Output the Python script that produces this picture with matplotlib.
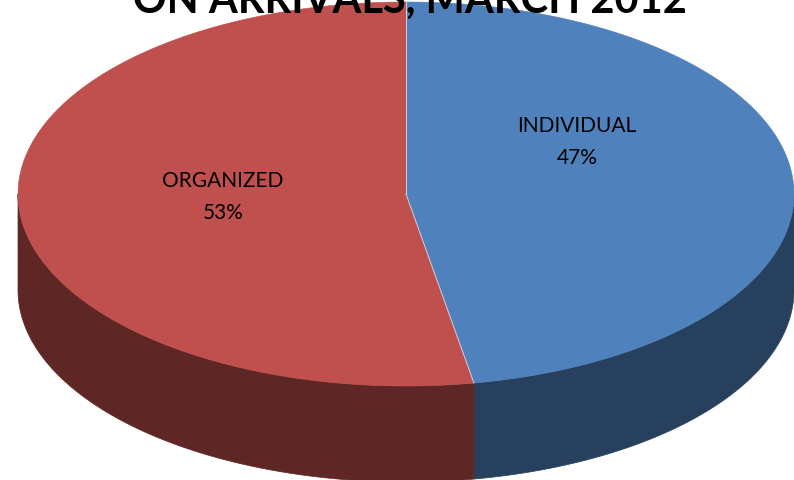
import numpy as np
import matplotlib.pyplot as plt
from matplotlib.patches import Polygon

# data
labels = ['INDIVIDUAL', 'ORGANIZED']
values = [47.2, 52.8]
top_colors = ['#4F81BD', '#C0504D']
side_colors = ['#27405E', '#5E2726']
title = 'ON ARRIVALS, MARCH 2012'

plt.rcParams['font.family'] = ['Lato', 'DejaVu Sans']

fig = plt.figure(figsize=(7.94, 4.81), dpi=100)
ax = fig.add_axes([0, 0, 1, 1])
ax.set_xlim(0, 794)
ax.set_ylim(481, 0)
ax.axis('off')

# pie geometry (pixels)
cx, cy = 406, 195
a, b = 388, 192
depth = 96
start = 90.0


def pt(theta, dy=0):
    t = np.radians(theta)
    return cx + a * np.cos(t), cy - b * np.sin(t) + dy


total = float(sum(values))
angles = []
ang = start
for v in values:
    span = 360.0 * v / total
    angles.append((ang - span, ang))  # clockwise slices
    ang -= span

# side walls (front half only: theta in [-180, 0] mod 360)
for (t1, t2), col in zip(angles, side_colors):
    for k in range(-2, 2):
        lo = max(t1, -180 + 360 * k)
        hi = min(t2, 0 + 360 * k)
        if hi <= lo:
            continue
        th = np.linspace(lo, hi, 200)
        top = [pt(t) for t in th]
        bot = [pt(t, depth) for t in th[::-1]]
        ax.add_patch(Polygon(top + bot, closed=True, facecolor=col,
                             edgecolor=col, linewidth=0.5, zorder=1))

# top faces
for (t1, t2), col in zip(angles, top_colors):
    th = np.linspace(t1, t2, 300)
    verts = [(cx, cy)] + [pt(t) for t in th]
    ax.add_patch(Polygon(verts, closed=True, facecolor=col,
                         edgecolor=col, linewidth=0.4, zorder=2))

# light split lines between slices
for t1, t2 in angles:
    x, y = pt(t2)
    ax.plot([cx, x], [cy, y], color='#C9D3E3', linewidth=0.7, zorder=2.5)

# labels
label_pos = [(577, 132), (223, 187)]
for lab, v, (x, y) in zip(labels, values, label_pos):
    ax.text(x, y, lab, ha='center', va='baseline', fontsize=15, zorder=3)
    ax.text(x, y + 32, f'{v:.0f}%', ha='center', va='baseline', fontsize=15, zorder=3)

ax.text(410, 13, title, ha='center', va='baseline', fontsize=30,
        fontweight='bold', zorder=4)

fig.savefig('out.png', dpi=100)
